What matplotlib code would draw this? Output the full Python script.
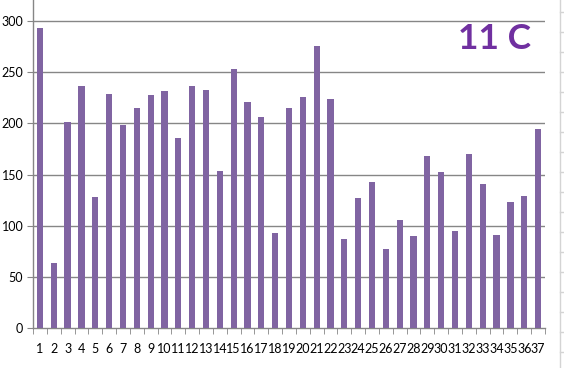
import matplotlib
matplotlib.use("Agg")
import matplotlib.pyplot as plt
from matplotlib.lines import Line2D

categories = [str(i) for i in range(1, 38)]
values = [293, 64, 201, 236, 128, 229, 198, 215, 228, 232, 186, 236,
          233, 153, 253, 221, 206, 93, 215, 226, 276, 224,
          87, 127, 143, 77, 106, 90, 168, 152, 95, 170, 141, 91, 123, 129, 194]
yticks = [0, 50, 100, 150, 200, 250, 300]
title = "11 C"

W, H = 564, 368
fig = plt.figure(figsize=(W / 100, H / 100), dpi=100)
ax = fig.add_axes([33 / W, (H - 328) / H, (545 - 33) / W, 328 / H])

grid_col = "#868686"
bar_col = "#8064A2"
x = list(range(1, len(values) + 1))
ax.bar(x, values, width=0.45, color=bar_col, zorder=3)

ax.set_xlim(0.5, len(values) + 0.5)
ax.set_ylim(0, 300 * 328 / 307)
ax.set_yticks(yticks)
ax.set_yticklabels([str(t) for t in yticks], fontsize=9, family="Lato")
ax.set_xticks(x)
ax.set_xticklabels(categories, fontsize=9, family="Lato")
ax.tick_params(axis="x", length=0, pad=11)
ax.set_xticks([i + 0.5 for i in range(0, len(values) + 1)], minor=True)
ax.tick_params(axis="x", which="minor", length=4, color=grid_col, direction="out")
ax.tick_params(axis="y", length=4, color=grid_col, direction="out", pad=3)

for t in yticks[1:]:
    ax.axhline(t, color=grid_col, lw=1, zorder=1)

for s in ["top", "right"]:
    ax.spines[s].set_visible(False)
for s in ["left", "bottom"]:
    ax.spines[s].set_color(grid_col)
    ax.spines[s].set_linewidth(1)

fig.text(495 / W, 1 - 39 / H, title, fontsize=25.5, fontweight="bold",
         color="#7030A0", family="Lato", ha="center", va="center")

# spreadsheet cell border at right edge
fig.add_artist(Line2D([560 / W, 560 / W], [0, 1], color="#d4d4d4", lw=1))
yy = 12
while yy < H:
    fig.add_artist(Line2D([560 / W, 1], [1 - yy / H, 1 - yy / H], color="#d4d4d4", lw=1))
    yy += 20

fig.savefig("out.png", dpi=100)
